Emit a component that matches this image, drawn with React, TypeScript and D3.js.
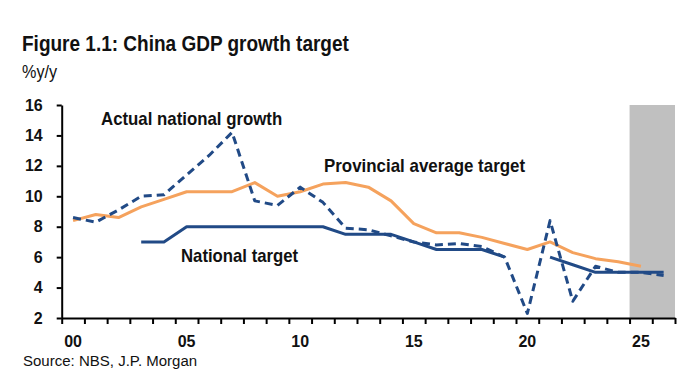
import React, { useRef, useEffect } from 'react';
import * as d3 from 'd3';

// years on the category axis
const labelYears = [2000, 2005, 2010, 2015, 2020, 2025];
const yTicks = [2, 4, 6, 8, 10, 12, 14, 16];
const shadeYears = [2025, 2026];

const actualYears = d3.range(2000, 2027);
const actualGrowth = [8.6, 8.3, 9.1, 10.0, 10.1, 11.4, 12.7, 14.2, 9.7, 9.4, 10.6, 9.6, 7.9, 7.8, 7.4, 7.0, 6.8, 6.9, 6.7, 6.0, 2.3, 8.4, 3.1, 5.4, 5.0, 5.0, 4.8];

const provYears = d3.range(2000, 2026);
const provTarget = [8.4, 8.8, 8.6, 9.3, 9.8, 10.3, 10.3, 10.3, 10.9, 10.0, 10.3, 10.8, 10.9, 10.6, 9.7, 8.2, 7.6, 7.6, 7.3, 6.9, 6.5, 7.0, 6.3, 5.9, 5.7, 5.4];

// 2020 had no target, so the line is split there
const natYearsA = d3.range(2003, 2020);
const natTargetA = [7.0, 7.0, 8.0, 8.0, 8.0, 8.0, 8.0, 8.0, 8.0, 7.5, 7.5, 7.5, 7.0, 6.5, 6.5, 6.5, 6.0];
const natYearsB = d3.range(2021, 2027);
const natTargetB = [6.0, 5.5, 5.0, 5.0, 5.0, 5.0];

const NAVY = '#214a86';
const ORANGE = '#f5a25d';
const FONT = '"Liberation Sans", Arial, sans-serif';

const App = () => {
  const svgRef = useRef(null);
  const width = 700;
  const height = 387;

  useEffect(() => {
    const svg = d3.select(svgRef.current);
    svg.selectAll('*').remove();

    const x = d3.scaleLinear().domain([2000, 2027]).range([61.7, 675]);
    const y = d3.scaleLinear().domain([2, 16]).range([318, 105]);
    const cx = (yr) => x(yr + 0.5);

    // forecast shading
    svg.append('rect')
      .attr('x', x(shadeYears[0]))
      .attr('y', y(16))
      .attr('width', x(shadeYears[shadeYears.length - 1] + 1) - x(shadeYears[0]))
      .attr('height', y(2) - y(16))
      .attr('fill', '#c0c0c0');

    const line = d3.line().x(d => cx(d[0])).y(d => y(d[1]));

    const drawLine = (xs, vs, color, dash) => {
      svg.append('path')
        .datum(xs.map((yr, i) => [yr, vs[i]]))
        .attr('fill', 'none')
        .attr('stroke', color)
        .attr('stroke-width', 3)
        .attr('stroke-linejoin', 'round')
        .attr('stroke-dasharray', dash || null)
        .attr('d', line);
    };

    drawLine(provYears, provTarget, ORANGE);
    drawLine(natYearsA, natTargetA, NAVY);
    drawLine(natYearsB, natTargetB, NAVY);
    drawLine(actualYears, actualGrowth, NAVY, '8,5');

    // y axis
    const yAxis = svg.append('g')
      .attr('transform', `translate(${x(2000)},0)`)
      .call(d3.axisLeft(y).tickValues(yTicks).tickSize(5).tickSizeOuter(0).tickPadding(14));
    yAxis.select('.domain').attr('stroke', '#000').attr('stroke-width', 2);
    yAxis.selectAll('.tick line').attr('stroke', '#000').attr('stroke-width', 2);
    yAxis.selectAll('.tick text')
      .attr('fill', '#111')
      .style('font-family', FONT)
      .style('font-size', '16px')
      .style('font-weight', 'bold');

    // x axis: ticks at year boundaries
    const xAxis = svg.append('g')
      .attr('transform', `translate(0,${y(2)})`)
      .call(d3.axisBottom(x).tickValues(d3.range(2000, 2028)).tickSize(6).tickSizeOuter(0).tickFormat(() => ''));
    xAxis.select('.domain').attr('stroke', '#000').attr('stroke-width', 2);
    xAxis.selectAll('.tick line').attr('stroke', '#000').attr('stroke-width', 2);

    svg.append('g')
      .selectAll('text')
      .data(labelYears)
      .join('text')
      .attr('x', d => cx(d))
      .attr('y', 347)
      .attr('text-anchor', 'middle')
      .attr('fill', '#111')
      .style('font-family', FONT)
      .style('font-size', '16px')
      .style('font-weight', 'bold')
      .text(d => String(d % 100).padStart(2, '0'));

    // titles and labels, squeezed sideways like the narrow original font
    const text = (str, tx, ty, size, weight, sx) =>
      svg.append('text')
        .attr('transform', `translate(${tx},${ty}) scale(${sx},1)`)
        .style('font-family', FONT)
        .style('font-size', size)
        .style('font-weight', weight)
        .attr('fill', '#111')
        .text(str);

    text('Figure 1.1: China GDP growth target', 22, 51, '22.5px', 'bold', 0.845);
    text('%y/y', 22, 78, '18px', 'normal', 0.9);
    text('Actual national growth', 101, 125, '18px', 'bold', 0.935);
    text('Provincial average target', 324, 172, '18px', 'bold', 0.94);
    text('National target', 181, 262, '18px', 'bold', 0.93);
    text('Source: NBS, J.P. Morgan', 23, 366, '15.5px', 'normal', 0.97);
  }, []);

  return (
    <div style={{ position: 'absolute', left: 0, top: 0 }}>
      <svg ref={svgRef} width={width} height={height} style={{ display: 'block', background: '#fff' }} />
    </div>
  );
};

export default App;
